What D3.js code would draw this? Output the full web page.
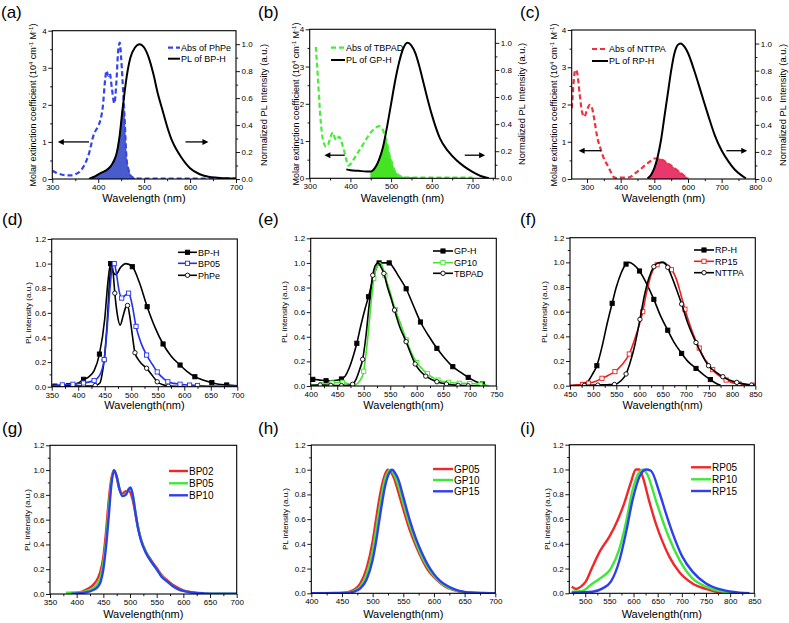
<!DOCTYPE html>
<html><head><meta charset="utf-8">
<script src="https://cdn.jsdelivr.net/npm/d3@7"></script>
<style>body{margin:0;background:#fff}svg{display:block}text{font-family:Arial,"Liberation Sans",sans-serif;fill:#000}</style>
</head><body><svg id="c" width="789" height="623"></svg>
<script>
// ---------- data (wavelength nm, value) ----------
const absPhPe=[[300,0.22],[310,0.16],[320,0.12],[330,0.1],[340,0.1],[350,0.13],[360,0.2],[370,0.38],[380,0.69],[390,1.19],[400,1.43],[405,1.6],[410,1.95],[415,2.67],[418,2.92],[422,2.78],[425,2.85],[430,2.42],[435,2.04],[440,2.71],[443,3.39],[447,3.68],[450,3.25],[455,2.2],[458,1.5],[460,0.9],[462,0.5],[465,0.3],[470,0.1],[475,0.04],[480,0.02],[500,0.01],[600,0.01],[700,0.01]];
const plBPH=[[380,0],[390,0.015],[404,0.042],[415,0.06],[426,0.09],[440,0.19],[447,0.33],[453,0.52],[458,0.66],[462,0.76],[470,0.9],[480,0.975],[490,1.0],[500,0.975],[510,0.9],[520,0.78],[530,0.63],[540,0.51],[550,0.39],[560,0.29],[570,0.22],[580,0.165],[600,0.08],[620,0.037],[640,0.017],[660,0.01],[680,0.005],[700,0.003]];
const absTBPAD=[[315,3.53],[320,2.73],[325,1.83],[330,1.21],[335,0.94],[340,0.85],[345,0.89],[350,1.07],[357,1.23],[362,1.07],[367,1.03],[372,1.12],[378,0.98],[385,0.72],[390,0.49],[395,0.34],[400,0.38],[410,0.54],[420,0.72],[430,0.89],[440,1.07],[450,1.23],[460,1.34],[470,1.4],[478,1.34],[485,1.12],[490,0.94],[495,0.67],[500,0.49],[505,0.31],[510,0.18],[515,0.12],[520,0.07],[530,0.03],[550,0.02],[600,0.02],[700,0.02]];
const plGPH=[[390,0.066],[400,0.06],[420,0.055],[440,0.05],[450,0.05],[460,0.075],[470,0.135],[480,0.23],[490,0.38],[500,0.55],[510,0.72],[520,0.86],[530,0.96],[540,1.0],[550,0.98],[560,0.92],[570,0.82],[580,0.7],[590,0.58],[600,0.47],[620,0.295],[640,0.2],[660,0.135],[680,0.086],[700,0.047],[720,0.017],[740,0]];
const absNTTPA=[[255,1.9],[260,2.57],[265,2.93],[270,2.88],[278,2.3],[285,1.81],[292,1.67],[300,1.85],[308,1.99],[315,1.9],[322,1.58],[330,1.14],[340,0.82],[350,0.55],[360,0.38],[370,0.2],[380,0.045],[390,0.02],[400,0.04],[420,0.04],[430,0.06],[440,0.13],[450,0.2],[460,0.27],[470,0.35],[480,0.42],[490,0.49],[500,0.55],[510,0.55],[520,0.53],[530,0.48],[540,0.42],[550,0.36],[560,0.29],[570,0.22],[580,0.15],[590,0.08],[600,0.02]];
const plRPH=[[480,0.005],[490,0.03],[500,0.08],[510,0.165],[520,0.29],[530,0.46],[540,0.63],[550,0.8],[560,0.93],[570,0.99],[578,1.0],[590,0.975],[600,0.93],[620,0.79],[640,0.63],[660,0.47],[680,0.32],[700,0.21],[720,0.13],[740,0.066],[760,0.025],[772,0.005]];
const overlapRanges={a:[380,480],b:[450,560],c:[480,600]};

const dBPH=[[350,0.005],[380,0.01],[400,0.03],[410,0.06],[420,0.08],[430,0.13],[440,0.265],[450,0.55],[456,0.85],[461,1.0],[466,0.93],[471,0.91],[480,0.97],[490,1.0],[502,0.975],[515,0.85],[530,0.65],[545,0.48],[560,0.347],[575,0.25],[592,0.176],[605,0.125],[620,0.081],[635,0.055],[652,0.033],[665,0.02],[680,0.014],[700,0.008]];
const dBPHm=[[356,0.005],[382,0.01],[410,0.06],[440,0.265],[461,1.0],[502,0.975],[530,0.65],[560,0.347],[592,0.176],[620,0.081],[652,0.033],[680,0.014]];
const dBP05=[[350,0.01],[370,0.015],[390,0.02],[410,0.03],[430,0.05],[440,0.09],[449,0.22],[455,0.5],[460,0.8],[464,0.97],[468,1.0],[472,0.92],[477,0.78],[482,0.72],[488,0.74],[495,0.76],[501,0.68],[509,0.49],[518,0.36],[529,0.257],[540,0.18],[549,0.12],[560,0.07],[569,0.04],[580,0.027],[592,0.02],[610,0.013],[625,0.01],[650,0.005],[700,0.003]];
const dBP05m=[[370,0.015],[390,0.02],[410,0.03],[430,0.05],[449,0.22],[468,1.0],[482,0.72],[495,0.76],[509,0.49],[529,0.257],[549,0.12],[569,0.04],[592,0.02],[610,0.013],[625,0.01]];
const dPhPe=[[350,0.005],[400,0.005],[425,0.005],[432,0.01],[441,0.03],[445,0.1],[449,0.217],[455,0.55],[459,0.85],[463,1.0],[466,0.92],[469,0.76],[474,0.58],[479,0.5],[485,0.58],[490,0.65],[493,0.66],[497,0.58],[502,0.42],[507,0.276],[515,0.21],[529,0.15],[540,0.09],[549,0.04],[560,0.015],[570,0.005],[600,0.002]];
const dPhPem=[[370,0.005],[390,0.005],[410,0.005],[432,0.01],[449,0.217],[469,0.76],[493,0.66],[507,0.276],[529,0.15],[549,0.04],[570,0.005]];

const eGPH=[[400,0.055],[415,0.05],[430,0.043],[445,0.045],[458,0.057],[465,0.08],[472,0.14],[480,0.24],[487,0.347],[495,0.5],[502,0.62],[509,0.725],[518,0.88],[524,0.96],[529,1.0],[538,1.0],[548,1.0],[556,0.96],[566,0.89],[580,0.79],[593,0.66],[607,0.52],[622,0.41],[638,0.306],[652,0.23],[668,0.157],[683,0.11],[697,0.07],[712,0.035],[724,0.016],[730,0.005]];
const eGPHm=[[404,0.054],[429,0.043],[458,0.057],[487,0.347],[509,0.725],[529,1.0],[548,1.0],[580,0.79],[607,0.52],[638,0.306],[668,0.157],[697,0.07],[724,0.016]];
const eGP10=[[400,0.005],[420,0.01],[440,0.025],[460,0.03],[470,0.02],[480,0.005],[485,0.01],[492,0.04],[499,0.1],[504,0.25],[509,0.45],[514,0.68],[519,0.875],[525,0.97],[531,1.0],[536,0.96],[542,0.87],[550,0.76],[558,0.64],[570,0.5],[580,0.375],[590,0.27],[600,0.19],[610,0.14],[619,0.1],[630,0.07],[639,0.048],[650,0.036],[658,0.03],[680,0.022],[700,0.02],[720,0.012],[731,0.005],[737,0]];
const eGP10m=[[420,0.01],[440,0.025],[460,0.03],[480,0.005],[500,0.12],[519,0.875],[540,0.9],[560,0.62],[580,0.375],[600,0.19],[620,0.1],[640,0.048],[660,0.03],[680,0.022],[700,0.02],[720,0.012]];
const eTBPAD=[[400,0.005],[418,0.008],[440,0.005],[458,0.003],[470,0.005],[479,0.014],[485,0.05],[492,0.13],[498,0.217],[504,0.4],[510,0.65],[517,0.9],[522,0.98],[527,1.0],[532,0.97],[538,0.915],[545,0.8],[551,0.72],[558,0.617],[568,0.48],[580,0.36],[588,0.27],[597,0.179],[607,0.12],[617,0.08],[627,0.055],[638,0.035],[656,0.016],[678,0.005],[697,0.002],[720,0.001]];
const eTBPADm=[[418,0.008],[438,0.005],[458,0.003],[479,0.014],[498,0.217],[517,0.9],[538,0.915],[558,0.617],[580,0.36],[597,0.179],[617,0.08],[638,0.035],[656,0.016],[678,0.005],[697,0.002]];

const fRPH=[[450,0],[470,0.003],[481,0.01],[490,0.04],[498,0.09],[508,0.162],[520,0.33],[530,0.5],[541,0.668],[550,0.8],[560,0.91],[571,0.986],[578,1.0],[588,0.98],[600,0.93],[615,0.83],[631,0.7],[645,0.57],[661,0.45],[675,0.35],[691,0.262],[705,0.195],[722,0.14],[738,0.09],[753,0.05],[765,0.02],[775,0.003]];
const fRPHm=[[481,0.01],[508,0.162],[541,0.668],[571,0.986],[600,0.93],[631,0.7],[661,0.45],[691,0.262],[722,0.14],[753,0.05]];
const fRP15=[[450,0.003],[475,0.01],[490,0.02],[505,0.035],[519,0.06],[533,0.085],[547,0.114],[562,0.17],[578,0.257],[590,0.38],[600,0.5],[607,0.6],[615,0.75],[625,0.9],[635,0.975],[645,1.0],[652,1.0],[660,0.98],[670,0.94],[680,0.86],[690,0.73],[698,0.62],[710,0.48],[720,0.38],[729,0.305],[740,0.22],[750,0.17],[758,0.13],[770,0.085],[787,0.046],[800,0.025],[815,0.014],[830,0.007],[850,0.003]];
const fRP15m=[[477,0.01],[490,0.02],[519,0.06],[547,0.114],[578,0.257],[607,0.6],[638,0.98],[669,0.94],[698,0.62],[729,0.305],[758,0.13],[787,0.046],[815,0.014],[845,0.004]];
const fNTTPA=[[450,0],[480,0.002],[506,0.005],[530,0.008],[546,0.01],[560,0.04],[571,0.095],[580,0.19],[590,0.33],[601,0.538],[610,0.72],[620,0.87],[631,0.965],[640,0.995],[650,1.0],[661,0.96],[670,0.88],[680,0.78],[691,0.662],[705,0.5],[722,0.35],[735,0.25],[749,0.162],[765,0.11],[780,0.073],[795,0.045],[810,0.027],[825,0.015],[842,0.005],[850,0.003]];
const fNTTPAm=[[481,0.002],[510,0.005],[546,0.01],[571,0.095],[601,0.538],[631,0.965],[661,0.96],[691,0.662],[722,0.35],[749,0.162],[780,0.073],[810,0.027],[842,0.005]];

const gBP02=[[380,0.005],[400,0.01],[410,0.02],[420,0.04],[430,0.07],[440,0.13],[445,0.19],[450,0.3],[455,0.5],[460,0.75],[465,0.93],[470,1.0],[475,0.94],[480,0.85],[486,0.81],[492,0.83],[498,0.83],[503,0.79],[508,0.7],[513,0.58],[520,0.45],[530,0.34],[540,0.27],[550,0.21],[560,0.15],[570,0.11],[580,0.075],[590,0.05],[600,0.03],[610,0.018],[620,0.01],[630,0.005]];
const gBP05=[[380,0.01],[400,0.01],[410,0.015],[420,0.025],[430,0.045],[440,0.09],[445,0.14],[450,0.25],[455,0.42],[460,0.68],[465,0.9],[470,1.0],[475,0.95],[480,0.85],[486,0.79],[492,0.8],[498,0.85],[502,0.85],[506,0.78],[511,0.64],[516,0.52],[522,0.42],[530,0.34],[540,0.26],[550,0.2],[560,0.14],[570,0.1],[580,0.065],[590,0.04],[600,0.025],[610,0.015],[620,0.008],[640,0.003],[700,0.002]];
const gBP10=[[390,0.002],[400,0.004],[410,0.008],[420,0.015],[430,0.03],[440,0.06],[445,0.1],[450,0.2],[455,0.38],[460,0.62],[465,0.88],[470,1.0],[475,0.95],[480,0.85],[486,0.79],[492,0.8],[498,0.85],[501,0.86],[505,0.8],[510,0.66],[515,0.53],[520,0.44],[530,0.33],[540,0.26],[550,0.2],[560,0.135],[570,0.1],[580,0.065],[590,0.04],[600,0.025],[620,0.01],[640,0.005],[660,0.003],[700,0.003]];

const hGP05=[[400,0],[440,0.002],[450,0.004],[460,0.01],[470,0.03],[480,0.08],[490,0.2],[500,0.42],[505,0.58],[510,0.74],[515,0.87],[520,0.96],[525,1.0],[530,0.98],[535,0.93],[540,0.85],[550,0.68],[560,0.52],[570,0.39],[580,0.28],[590,0.19],[600,0.13],[610,0.085],[620,0.05],[630,0.03],[640,0.015],[650,0.007],[660,0.003],[700,0]];
const hGP10=[[400,0],[450,0.002],[460,0.006],[470,0.02],[480,0.055],[490,0.15],[500,0.34],[505,0.49],[510,0.65],[515,0.8],[520,0.92],[525,0.98],[529,1.0],[534,0.97],[540,0.9],[550,0.73],[560,0.56],[570,0.42],[580,0.3],[590,0.21],[600,0.14],[610,0.09],[620,0.055],[630,0.033],[640,0.017],[650,0.008],[660,0.004],[700,0]];
const hGP15=[[400,0],[450,0.001],[460,0.004],[470,0.013],[480,0.04],[490,0.11],[500,0.27],[505,0.4],[510,0.56],[515,0.72],[520,0.86],[525,0.95],[530,0.995],[532,1.0],[537,0.97],[542,0.92],[550,0.78],[560,0.6],[570,0.45],[580,0.33],[590,0.23],[600,0.155],[610,0.1],[620,0.065],[630,0.04],[640,0.022],[650,0.012],[660,0.006],[680,0.002],[700,0]];

const iRP05=[[472,0.054],[481,0.035],[491,0.054],[501,0.094],[515,0.215],[532,0.35],[550,0.457],[567,0.59],[581,0.73],[594,0.89],[605,1.0],[612,1.0],[619,0.94],[632,0.75],[646,0.565],[660,0.417],[674,0.296],[695,0.17],[722,0.08],[750,0.035],[770,0.013],[784,0]];
const iRP10=[[472,0.013],[494,0.02],[515,0.08],[536,0.134],[553,0.2],[570,0.35],[584,0.565],[598,0.834],[612,0.98],[620,1.0],[629,0.955],[646,0.753],[660,0.59],[674,0.444],[695,0.27],[722,0.12],[750,0.054],[784,0.013],[819,0]];
const iRP15=[[472,0.005],[515,0.013],[536,0.04],[553,0.094],[570,0.255],[584,0.484],[598,0.753],[612,0.94],[626,1.0],[636,0.99],[653,0.82],[667,0.646],[681,0.484],[701,0.296],[722,0.175],[750,0.08],[784,0.027],[819,0.005],[840,0]];

const plTicks=[0,0.2,0.4,0.6,0.8,1.0,1.2];
const absTicks=[0,1,2,3,4];
const normTicks=[0,0.2,0.4,0.6,0.8,1.0];

// ---------- drawing ----------
const svg=d3.select("#c");
const defs=svg.append("defs");
const FONT='Arial,"Liberation Sans",sans-serif';
function range(a,b,s){const r=[];for(let v=a;v<=b+1e-9;v+=s)r.push(+v.toFixed(4));return r;}
function lin(data,x){
  if(x<=data[0][0])return data[0][1];
  for(let i=1;i<data.length;i++){if(x<=data[i][0]){const a=data[i-1],b=data[i];return a[1]+(b[1]-a[1])*(x-a[0])/(b[0]-a[0]);}}
  return data[data.length-1][1];
}
let clipId=0;
function panel(o){
  const g=svg.append("g");
  const x=d3.scaleLinear().domain(o.xd).range([o.l,o.r]);
  const y=d3.scaleLinear().domain(o.yd).range([o.b,o.t]);
  const y2=o.y2d?d3.scaleLinear().domain(o.y2d).range([o.b,o.t]):null;
  const cid="clip"+(clipId++);
  defs.append("clipPath").attr("id",cid).append("rect").attr("x",o.l).attr("y",o.t).attr("width",o.r-o.l).attr("height",o.b-o.t);
  const plot=g.append("g").attr("clip-path","url(#"+cid+")");
  const tf=o.tfs||8;
  const xp=o.xpad==null?1.5:o.xpad;
  const ax=(axis,tr)=>{const a=g.append("g").attr("transform",tr).call(axis);a.select(".domain").remove();a.selectAll("line").attr("stroke","#000").attr("stroke-width",0.9);a.selectAll("text").style("font-size",tf+"px").style("font-family",FONT);return a;};
  ax(d3.axisBottom(x).tickValues(o.xt).tickSize(4).tickPadding(xp).tickFormat(d3.format("d")),`translate(0,${o.b})`);
  ax(d3.axisBottom(x).tickValues(o.xm).tickSize(2.2).tickFormat(""),`translate(0,${o.b})`);
  ax(d3.axisLeft(y).tickValues(o.yt).tickSize(4).tickPadding(1.5).tickFormat(d3.format(o.yfmt)),`translate(${o.l},0)`);
  ax(d3.axisLeft(y).tickValues(o.ym).tickSize(2.2).tickFormat(""),`translate(${o.l},0)`);
  if(y2){
    ax(d3.axisRight(y2).tickValues(normTicks).tickSize(4).tickPadding(1.5).tickFormat(d3.format(".1f")),`translate(${o.r},0)`);
    ax(d3.axisRight(y2).tickValues(range(0.1,1.0,0.2)).tickSize(2.2).tickFormat(""),`translate(${o.r},0)`);
  }
  if(o.overlap){
    const [s0,s1]=o.overlap.range;const pts=[];
    for(let w=s0;w<=s1;w+=0.5){
      const pa=y(lin(o.overlap.abs,w)),pb=y2(lin(o.overlap.pl,w));
      pts.push([x(w),Math.max(pa,pb)]);
    }
    const area=d3.area().x(d=>d[0]).y0(o.b).y1(d=>Math.min(d[1],o.b));
    plot.append("path").datum(pts).attr("d",area).attr("fill",o.overlap.fill).attr("stroke",o.overlap.edge).attr("stroke-width",0.6);
  }
  o.series.forEach(s=>{
    const sc=s.right?y2:y;
    const line=d3.line().curve(d3.curveMonotoneX).x(d=>x(d[0])).y(d=>sc(d[1]));
    plot.append("path").datum(s.data).attr("d",line).attr("fill","none").attr("stroke",s.color).attr("stroke-width",s.w||1.6)
      .attr("stroke-dasharray",s.dash||null).attr("stroke-linejoin","round");
    if(s.marks) drawMarks(plot,s.marks.map(d=>[x(d[0]),sc(d[1])]),s);
  });
  g.append("rect").attr("x",o.l).attr("y",o.t).attr("width",o.r-o.l).attr("height",o.b-o.t).attr("fill","none").attr("stroke","#000").attr("stroke-width",1.1);
  (o.arrows||[]).forEach(a=>{
    const sc=a[3]?y2:y;const x1=x(a[0]),x2=x(a[1]),yy=sc(a[2]);const dir=Math.sign(x2-x1);
    g.append("line").attr("x1",x1).attr("x2",x2-dir*5).attr("y1",yy).attr("y2",yy).attr("stroke","#000").attr("stroke-width",1.3);
    g.append("path").attr("d",`M${x2},${yy}L${x2-dir*6},${yy-3}L${x2-dir*6},${yy+3}Z`).attr("fill","#000");
  });
  if(o.legend){
    o.legend.items.forEach((it,i)=>{
      const ly=o.legend.ys[i];const s=it.s;
      g.append("line").attr("x1",o.legend.x1).attr("x2",o.legend.x2).attr("y1",ly).attr("y2",ly).attr("stroke",s.color).attr("stroke-width",s.w||1.6).attr("stroke-dasharray",s.dash||null);
      if(s.marks) drawMarks(g,[[(o.legend.x1+o.legend.x2)/2,ly]],s);
      g.append("text").attr("x",o.legend.x2+1).attr("y",ly+o.legend.fs*0.36).style("font-size",o.legend.fs+"px").text(it.label);
    });
  }
}
function drawMarks(sel,pts,s){
  pts.forEach(p=>{
    if(s.shape==="sq"){
      sel.append("rect").attr("x",p[0]-2.1).attr("y",p[1]-2.1).attr("width",4.2).attr("height",4.2)
        .attr("fill",s.filled?s.color:"#fff").attr("stroke",s.color).attr("stroke-width",0.9);
    }else{
      sel.append("circle").attr("cx",p[0]).attr("cy",p[1]).attr("r",2.2).attr("fill","#fff").attr("stroke",s.color).attr("stroke-width",0.9);
    }
  });
}
function text(x,y,str,fs,rot,anchor){
  const t=svg.append("text").attr("x",x).attr("y",y).style("font-size",fs+"px").attr("text-anchor",anchor||"start");
  if(rot)t.attr("transform",`rotate(${rot},${x},${y})`);
  t.text(str);return t;
}
function molarTitle(cx,cy){
  const fs=9;const bx=cx+fs*0.36;
  const t=svg.append("text").attr("x",bx).attr("y",cy).attr("text-anchor","middle").style("font-size",fs+"px").attr("transform",`rotate(-90,${bx},${cy})`);
  t.append("tspan").text("Molar extinction coefficient (10");
  t.append("tspan").attr("dy",-3.5).style("font-size","6px").text("4");
  t.append("tspan").attr("dy",3.5).text(" cm");
  t.append("tspan").attr("dy",-3.5).style("font-size","6px").text("-1");
  t.append("tspan").attr("dy",3.5).text(" M");
  t.append("tspan").attr("dy",-3.5).style("font-size","6px").text("-1");
  t.append("tspan").attr("dy",3.5).text(")");
}
function rotTitle(cx,cy,str,fs){const bx=cx+fs*0.36;text(bx,cy,str,fs,-90,"middle");}

const BLUE="#2f3ff0",GREEN="#3ee83a",RED="#f0282c";

const topCommon={yd:[0,4],yt:absTicks,ym:range(0.5,3.5,1),yfmt:"d",y2d:[0,1.1],xpad:1};
const sA1={data:absPhPe,color:"#3344ee",w:2.2,dash:"5,3"},sA2={data:plBPH,color:"#000",w:2,right:true};
panel(Object.assign({},topCommon,{l:52.3,t:30.7,r:236,b:179,xd:[300,700],xt:range(300,700,100),xm:range(350,650,100),
  overlap:{abs:absPhPe,pl:plBPH,range:overlapRanges.a,fill:"#4a5ccc",edge:"#3344bb"},
  series:[sA1,sA2],arrows:[[380,312,1.0],[590,640,1.0]],
  legend:{x1:168,x2:180,ys:[47.7,58.7],fs:9,items:[{s:sA1,label:"Abs of PhPe"},{s:sA2,label:"PL of BP-H"}]}}));
const sB1={data:absTBPAD,color:"#44ee33",w:2.2,dash:"5,3"},sB2={data:plGPH,color:"#000",w:2,right:true};
panel(Object.assign({},topCommon,{l:309.7,t:29.3,r:495.3,b:178.3,xd:[300,756],xt:range(300,700,100),xm:range(350,750,100),
  overlap:{abs:absTBPAD,pl:plGPH,range:overlapRanges.b,fill:"#44e424",edge:"#33cc22"},
  series:[sB1,sB2],arrows:[[386,336,0.62],[681,731,0.62]],
  legend:{x1:331,x2:345,ys:[47.7,60],fs:9,items:[{s:sB1,label:"Abs of TBPAD"},{s:sB2,label:"PL of GP-H"}]}}));
const sC1={data:absNTTPA,color:"#f03040",w:2.2,dash:"5,3"},sC2={data:plRPH,color:"#000",w:2,right:true};
panel(Object.assign({},topCommon,{l:571.7,t:30,r:755.3,b:179,xd:[254.5,800],xt:range(300,800,100),xm:range(350,750,100),
  overlap:{abs:absNTTPA,pl:plRPH,range:overlapRanges.c,fill:"#e8386c",edge:"#d02050"},
  series:[sC1,sC2],arrows:[[342,275,0.76],[714,776,0.76]],
  legend:{x1:592,x2:608,ys:[49,61],fs:9,items:[{s:sC1,label:"Abs of NTTPA"},{s:sC2,label:"PL of RP-H"}]}}));

const plCommon={yd:[0,1.2],yt:plTicks,ym:range(0.1,1.1,0.2),yfmt:".1f"};
const sD1={data:dBPH,marks:dBPHm,color:"#000",shape:"sq",filled:true,w:1.6},
      sD2={data:dBP05,marks:dBP05m,color:"#2233ee",shape:"sq",w:1.6},
      sD3={data:dPhPe,marks:dPhPem,color:"#000",shape:"c",w:1.6};
panel(Object.assign({},plCommon,{l:51.7,t:239,r:237.3,b:386.7,xd:[350,700],xt:range(350,700,50),xm:range(375,675,50),
  series:[sD1,sD3,sD2],legend:{x1:178,x2:197,ys:[252.3,263.3,275.3],fs:9,items:[{s:sD1,label:"BP-H"},{s:sD2,label:"BP05"},{s:sD3,label:"PhPe"}]}}));
const sE1={data:eGPH,marks:eGPHm,color:"#000",shape:"sq",filled:true},
      sE2={data:eGP10,marks:eGP10m,color:"#44e430",shape:"sq"},
      sE3={data:eTBPAD,marks:eTBPADm,color:"#000",shape:"c"};
panel(Object.assign({},plCommon,{l:310.7,t:238.3,r:496.3,b:386,xd:[400,750],xt:range(400,750,50),xm:range(425,725,50),
  series:[sE1,sE2,sE3],legend:{x1:433,x2:453,ys:[251,262.7,273.3],fs:9,items:[{s:sE1,label:"GP-H"},{s:sE2,label:"GP10"},{s:sE3,label:"TBPAD"}]}}));
const sF1={data:fRPH,marks:fRPHm,color:"#000",shape:"sq",filled:true},
      sF2={data:fRP15,marks:fRP15m,color:"#f02020",shape:"sq"},
      sF3={data:fNTTPA,marks:fNTTPAm,color:"#000",shape:"c"};
panel(Object.assign({},plCommon,{l:570,t:237.7,r:755.3,b:385.7,xd:[450,850],xt:range(450,850,50),xm:range(475,825,50),
  series:[sF1,sF2,sF3],legend:{x1:694,x2:714,ys:[250,261.3,272.7],fs:9,items:[{s:sF1,label:"RP-H"},{s:sF2,label:"RP15"},{s:sF3,label:"NTTPA"}]}}));

const W=2.4;
const sG=[{data:gBP02,color:RED,w:W},{data:gBP05,color:GREEN,w:W},{data:gBP10,color:BLUE,w:W}];
panel(Object.assign({},plCommon,{l:50,t:445.3,r:236.7,b:594,xd:[350,700],xt:range(350,700,50),xm:range(375,675,50),xpad:1,
  series:sG,legend:{x1:169,x2:188,ys:[471,483.3,495.3],fs:10,items:[{s:sG[0],label:"BP02"},{s:sG[1],label:"BP05"},{s:sG[2],label:"BP10"}]}}));
const sH=[{data:hGP05,color:RED,w:W},{data:hGP10,color:GREEN,w:W},{data:hGP15,color:BLUE,w:W}];
panel(Object.assign({},plCommon,{l:311.3,t:445,r:495.3,b:593.3,xd:[400,700],xt:range(400,700,50),xm:range(425,675,50),xpad:1,
  series:sH,legend:{x1:433,x2:453,ys:[469,480,491.3],fs:10,items:[{s:sH[0],label:"GP05"},{s:sH[1],label:"GP10"},{s:sH[2],label:"GP15"}]}}));
const sI=[{data:iRP05,color:RED,w:W},{data:iRP10,color:GREEN,w:W},{data:iRP15,color:BLUE,w:W}];
panel(Object.assign({},plCommon,{l:569.3,t:444.7,r:754.3,b:593.3,xd:[467,850],xt:range(500,850,50),xm:range(475,825,50),xpad:1,
  series:sI,legend:{x1:691,x2:711,ys:[467.3,479.3,491],fs:10,items:[{s:sI[0],label:"RP05"},{s:sI[1],label:"RP10"},{s:sI[2],label:"RP15"}]}}));

const labels=[["(a)",1,17.5],["(b)",258,17.5],["(c)",520,17.5],["(d)",2,225],["(e)",258,225],["(f)",520,225],["(g)",2,434],["(h)",258,434],["(i)",520,434]];
labels.forEach(l=>text(l[1],l[2],l[0],17));
text(144,202,"Wavelength (nm)",11,0,"middle");
text(402.5,202,"Wavelength (nm)",11,0,"middle");
text(663.5,202,"Wavelength (nm)",11,0,"middle");
text(144.5,409,"Wavelength(nm)",11,0,"middle");
text(403.5,409,"Wavelength(nm)",11,0,"middle");
text(662.6,409,"Wavelength(nm)",11,0,"middle");
text(143.3,618,"Wavelength(nm)",11,0,"middle");
text(403.3,618,"Wavelength(nm)",11,0,"middle");
text(661.8,618,"Wavelength(nm)",11,0,"middle");
molarTitle(33,105);molarTitle(296,104);molarTitle(554,105);
rotTitle(264,105,"Normalized PL Intensity (a.u.)",9.3);
rotTitle(522,104,"Normalized PL Intensity (a.u.)",9.3);
rotTitle(783,105,"Normalized PL Intensity (a.u.)",9.3);
rotTitle(28,313,"PL intensity (a.u.)",8);
rotTitle(284,312,"PL intensity (a.u.)",8);
rotTitle(544,312,"PL intensity (a.u.)",8);
rotTitle(27,520,"PL intensity (a.u.)",8);
rotTitle(285,519,"PL intensity (a.u.)",8);
rotTitle(547,519,"PL intensity (a.u.)",8);
</script></body></html>
